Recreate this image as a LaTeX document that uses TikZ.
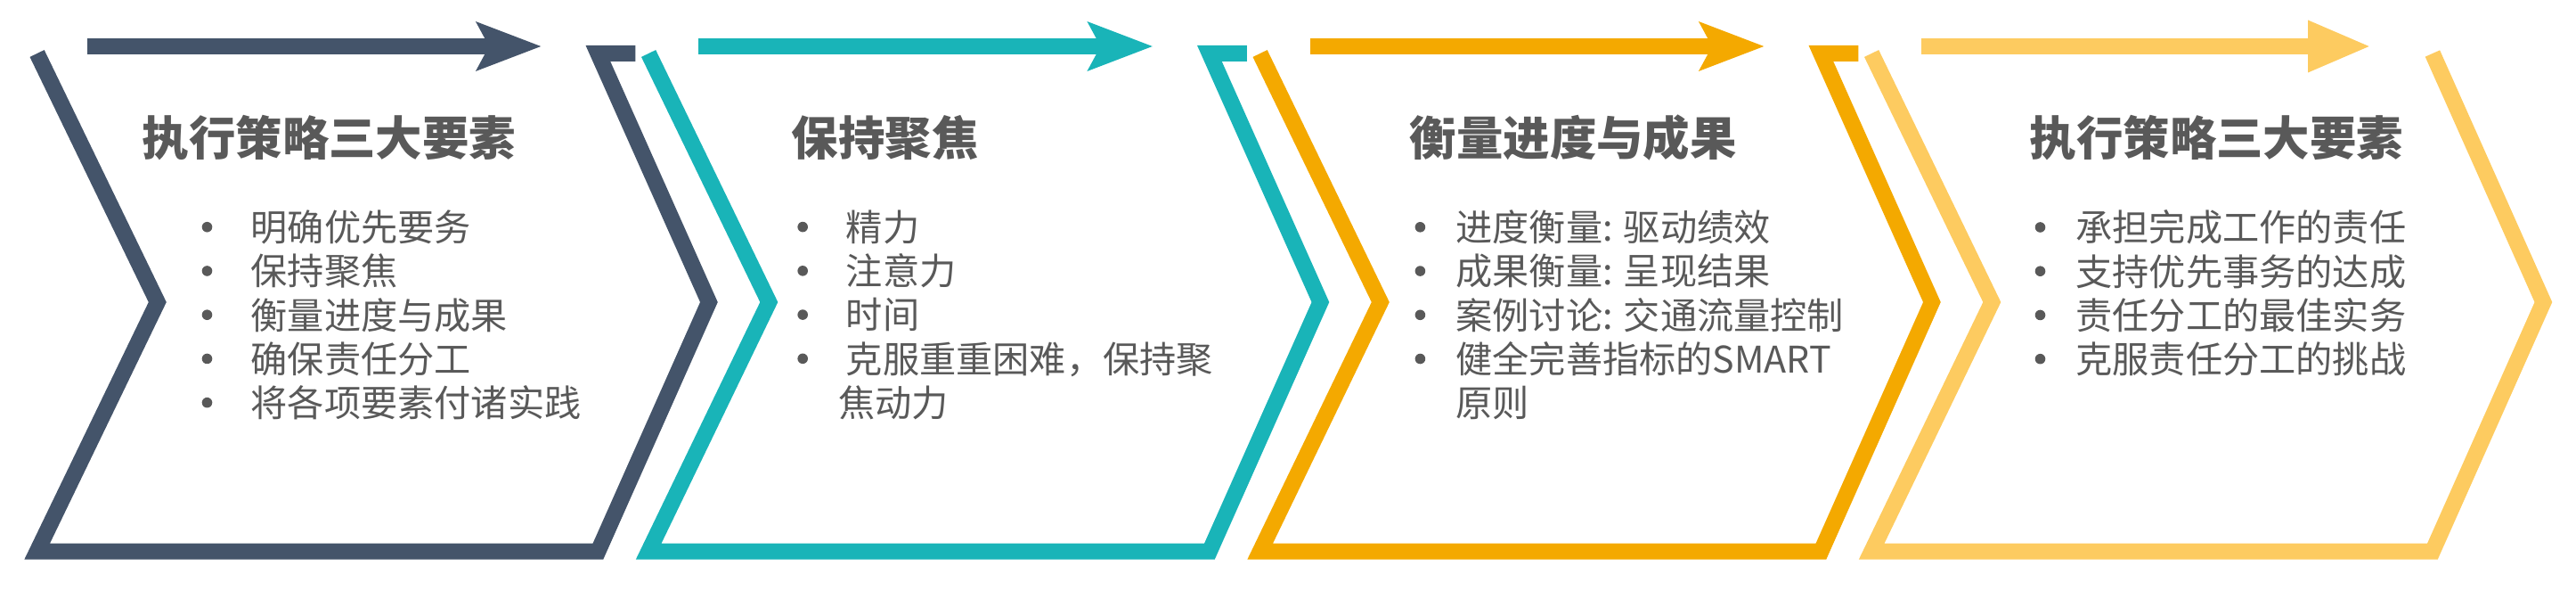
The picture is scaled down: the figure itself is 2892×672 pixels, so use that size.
\documentclass[tikz,border=0pt]{standalone}
\usepackage{fontspec}
\setmainfont{Noto Sans CJK SC}
\usetikzlibrary{arrows.meta}

\definecolor{stageslate}{HTML}{44546A}
\definecolor{stageteal}{HTML}{19B4B8}
\definecolor{stageorange}{HTML}{F4A900}
\definecolor{stageyellow}{HTML}{FDCB60}
\definecolor{txtgrey}{HTML}{595959}

\newlength{\bulgap}
\newcommand{\bul}{\makebox[\bulgap][l]{\tikz[baseline=0pt]\fill[txtgrey] (1.45pt,3.95pt) circle[radius=1.45pt];}}

\begin{document}
\begin{tikzpicture}[x=0.25pt, y=-0.25pt,
    stage/.style={line width=4.5pt, line join=miter},
    flow/.style={line width=4.5pt, -{Stealth[length=18pt, width=13.2pt, inset=3.3pt]}},
    lastflow/.style={line width=4.5pt, -{Triangle[length=18pt, width=13.2pt]}},
    heading/.style={font=\bfseries\fontsize{13.1}{15.7}\selectfont, text=txtgrey, inner sep=0pt, anchor=base west},
    points/.style={font=\fontsize{10.3}{12.31}\selectfont, text=txtgrey, inner sep=0pt, align=left, anchor=north west,
        execute at begin node={\setlength{\bulgap}{#1}}}]

    \useasboundingbox (0,0) rectangle (2892,672);

    % Chevron outlines
    \draw[stage, stageslate] (41.6,60) -- (176.8,339) -- (41.7,618.6) -- (671.4,618.6) -- (795.9,339) -- (671.4,60) -- (713.4,60);
    \draw[stage, stageteal] (728.1,60) -- (863.3,339) -- (728.2,618.6) -- (1357.9,618.6) -- (1482.4,339) -- (1357.9,60) -- (1399.9,60);
    \draw[stage, stageorange] (1414.6,60) -- (1549.8,339) -- (1414.7,618.6) -- (2044.4,618.6) -- (2168.9,339) -- (2044.4,60) -- (2086.4,60);
    \draw[stage, stageyellow] (2101.1,60) -- (2236.3,339) -- (2101.2,618.6) -- (2730.9,618.6) -- (2855.4,339) -- (2730.9,60);

    % Arrows above the chevrons
    \draw[flow, stageslate] (97.7,52) -- (608,52);
    \draw[flow, stageteal] (784.2,52) -- (1294.5,52);
    \draw[flow, stageorange] (1470.7,52) -- (1981,52);
    \draw[lastflow, stageyellow] (2157.2,52) -- (2663,52);

    % Headings
    \node[heading] (head1) at (159,174.5) {执行策略三大要素};
    \node[heading] (head2) at (888,174.5) {保持聚焦};
    \node[heading] (head3) at (1582,174.5) {衡量进度与成果};
    \node[heading] (head4) at (2278,174.5) {执行策略三大要素};

    % Bullet lists
    \node[points=13.75pt] (list1) at (225.9,235) {\bul 明确优先要务\\\bul 保持聚焦\\\bul 衡量进度与成果\\\bul 确保责任分工\\\bul 将各项要素付诸实践};
    \node[points=13.6pt] (list2) at (894.6,235) {\bul 精力\\\bul 注意力\\\bul 时间\\\bul 克服重重困难，保持聚\\\hspace{11.5pt}焦动力};
    \node[points=11.45pt] (list3) at (1587.8,235) {\bul 进度衡量: 驱动绩效\\\bul 成果衡量: 呈现结果\\\bul 案例讨论: 交通流量控制\\\bul 健全完善指标的SMART\\\hspace{11.45pt}原则};
    \node[points=11.45pt] (list4) at (2283.9,235) {\bul 承担完成工作的责任\\\bul 支持优先事务的达成\\\bul 责任分工的最佳实务\\\bul 克服责任分工的挑战};
\end{tikzpicture}
\end{document}
